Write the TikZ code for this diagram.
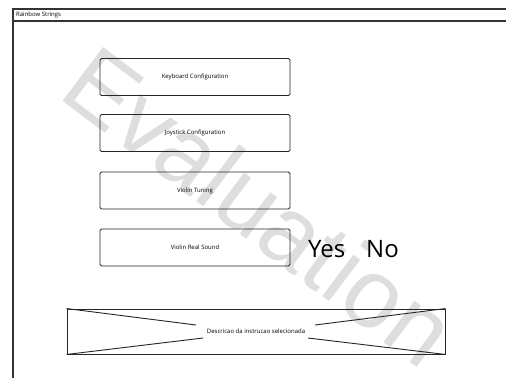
\documentclass[tikz,border=0pt]{standalone}
\usepackage{fontspec}
\setmainfont{Open Sans}
\newfontfamily\markfont{Liberation Sans}
\begin{document}
\begin{tikzpicture}[x=1pt,y=-1pt,
  frameline/.style={line width=1.2pt,draw=black!80},
  optbox/.style={draw=black!85,line width=0.9pt,rounded corners=1.5pt,
    minimum width=190pt,minimum height=37pt,inner sep=0pt,
    font=\fontsize{6}{7}\selectfont},
  smalltext/.style={inner sep=0pt,font=\fontsize{6}{7}\selectfont},
  bigtext/.style={inner sep=0pt,anchor=base west,font=\fontsize{24}{28}\selectfont},
  cross/.style={draw=black!85,line width=0.9pt}]
\useasboundingbox (0,0) rectangle (506,378);
\fill[white] (0,0) rectangle (506,378);

% window frame and title bar
\draw[frameline] (13,378) -- (13,9) -- (506,9);
\draw[frameline] (13,21) -- (506,21);
\node[smalltext,anchor=west] (title) at (16,15) {Rainbow Strings};

% watermark
\node[inner sep=0pt,anchor=base west,rotate=-37,text=black!13,
  font=\markfont\fontsize{98}{100}\selectfont] (mark) at (56,96) {Evaluation};

% menu buttons
\node[optbox] (kbd) at (195,77) {Keyboard Configuration};
\node[optbox] (joy) at (195,133) {Joystick Configuration};
\node[optbox] (tune) at (195,190.5) {Violin Tuning};
\node[optbox] (real) at (195,247.5) {Violin Real Sound};

% answer options
\node[bigtext] (yes) at (308,257) {Yes};
\node[bigtext] (no) at (366,257) {No};

% description panel
\node[draw=black!85,line width=0.9pt,minimum width=378pt,minimum height=45pt,
  inner sep=0pt] (desc) at (256,331.5) {};
\node[smalltext] (desctext) at (256,331.5) {Descricao da instrucao selecionada};
\coordinate (tl) at (196,325);
\coordinate (bl) at (203,338);
\coordinate (tr) at (315,325);
\coordinate (br) at (308,338);
\draw[cross] (desc.north west) -- (tl);
\draw[cross] (desc.south west) -- (bl);
\draw[cross] (desc.north east) -- (tr);
\draw[cross] (desc.south east) -- (br);
\end{tikzpicture}
\end{document}
